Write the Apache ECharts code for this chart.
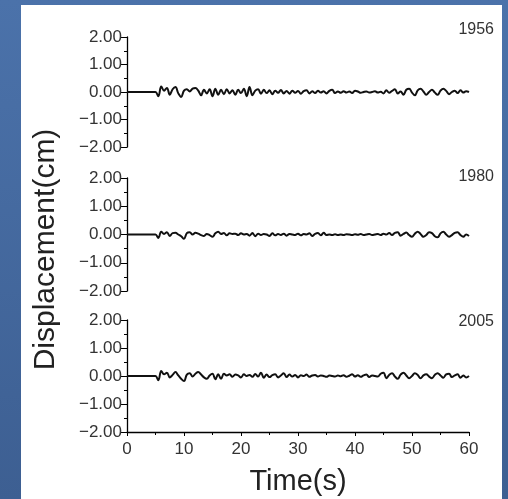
<!DOCTYPE html>
<html>
<head>
<meta charset="utf-8">
<title>Displacement</title>
<script src="https://cdn.jsdelivr.net/npm/echarts@6/dist/echarts.min.js"></script>
<style>
  html, body { margin: 0; padding: 0; }
  #chart { width: 508px; height: 499px; }
</style>
</head>
<body>
<div id="chart"></div>
<script>
// time axis: samples every 0.5 s from 0 to 60 s
const STEP = 0.5;
const years = ['1956', '1980', '2005'];

// displacement (cm)
const disp1956 = [
  0, 0, 0, 0, 0, 0, 0, 0, 0, 0, 0,
  -0.15, 0.2, 0.05, 0.15, -0.1, 0.1, 0.18, -0.05, -0.18, 0.05,
  0.1, 0.02, 0.12, 0.15, 0.05, -0.12, 0.08, -0.05, 0.1, -0.15,
  0.12, -0.1, 0.08, -0.08, 0.1, -0.05, 0.06, -0.1, 0.08, -0.04,
  0.12, -0.15, 0.18, -0.12, 0.05, 0.1, -0.06, 0.08, -0.04, 0.06,
  -0.08, 0.05, -0.03, 0.07, -0.05, 0.04, -0.06, 0.05, -0.03, 0.04,
  -0.06, 0.03, 0.06, -0.05, 0.03, -0.04, 0.05, -0.02, 0.03, -0.05,
  0.04, 0.08, -0.04, 0.02, -0.03, 0.03, -0.02, 0.02, -0.04, 0.05,
  0.02, -0.03, 0.0, 0.02, -0.02, 0.0, 0.03, -0.02, 0.01, -0.05,
  0.06, -0.03, 0.04, 0.1, -0.05, 0.02, -0.1, 0.08, 0.12, -0.02,
  -0.12, 0.06, 0.12, 0.02, -0.1, 0.0, 0.08, -0.02, -0.1, 0.05,
  0.12, 0.04, -0.08, 0.0, 0.05, -0.04, 0.06, -0.02, 0.03, 0.0
];
const disp1980 = [
  0, 0, 0, 0, 0, 0, 0, 0, 0, 0, 0,
  -0.12, 0.1, 0.02, 0.08, -0.05, 0.05, 0.06, 0.0, -0.06, -0.15,
  0.05, 0.08, 0.0, 0.06, 0.03, -0.02, -0.05, 0.02, -0.02, -0.08,
  0.04, 0.1, 0.02, 0.05, -0.03, 0.04, 0.02, 0.03, -0.02, 0.04,
  0.0, 0.02, -0.04, 0.05, -0.06, 0.03, -0.02, 0.02, 0.0, -0.05,
  0.04, -0.03, 0.02, -0.02, 0.03, -0.04, 0.02, 0.0, -0.02, 0.03,
  -0.03, 0.02, 0.0, 0.04, -0.05, 0.02, 0.05, -0.03, 0.06, -0.02,
  0.0, -0.02, 0.01, -0.02, 0.0, -0.02, 0.01, 0.0, -0.02, 0.01,
  -0.01, 0.02, -0.02, 0.0, 0.02, -0.02, 0.0, 0.02, -0.02, 0.03,
  0.0, 0.05, -0.02, 0.06, 0.08, -0.04, 0.02, 0.07, -0.02, -0.08,
  0.03, 0.1, 0.02, -0.08, -0.02, 0.08, 0.05, -0.06, -0.1, 0.04,
  0.1, 0.0, -0.08, -0.02, 0.06, 0.08, -0.02, -0.08, 0.0, -0.05
];
const disp2005 = [
  0, 0, 0, 0, 0, 0, 0, 0, 0, 0, 0,
  -0.15, 0.18, 0.06, 0.12, -0.05, 0.04, 0.14, 0.02, -0.1, -0.18,
  0.05, 0.1, -0.02, 0.08, 0.14, 0.05, -0.05, -0.1, 0.02, 0.08,
  -0.12, 0.06, -0.1, 0.08, 0.02, 0.06, -0.03, 0.05, 0.02, -0.05,
  0.06, 0.0, 0.04, -0.03, 0.07, -0.02, 0.12, -0.06, 0.05, -0.04,
  0.03, 0.06, -0.05, 0.02, 0.1, -0.04, 0.05, -0.02, 0.04, -0.05,
  0.03, 0.0, 0.05, -0.03, 0.02, 0.04, -0.02, 0.02, 0.0, -0.03,
  0.02, 0.0, -0.02, 0.02, -0.01, 0.03, -0.03, 0.01, 0.06, -0.02,
  0.03, -0.03, 0.02, 0.05, -0.04, 0.02, 0.0, -0.02, 0.08, 0.12,
  -0.08, 0.04, 0.1, -0.02, -0.1, 0.05, 0.12, 0.02, -0.08, 0.0,
  0.1, 0.04, -0.08, 0.02, 0.06, -0.02, -0.08, 0.04, 0.1, 0.02,
  -0.06, 0.06, 0.08, -0.04, 0.02, 0.06, -0.06, 0.02, -0.05, 0.0
];
const seriesValues = [disp1956, disp1980, disp2005];

// panel placement (px)
const panelTops = [37, 178, 320];
const panelHeights = [110, 113, 112];
const yearTops = [22, 169, 314];

const FONT = 'Liberation Sans, Arial, sans-serif';
const labelColor = '#333';

const chart = echarts.init(document.getElementById('chart'));

const grids = panelTops.map((top, i) => ({
  left: 127, right: 39, top: top, height: panelHeights[i]
}));

const xAxes = grids.map((g, i) => {
  const last = i === grids.length - 1;
  return {
    type: 'value', gridIndex: i, min: 0, max: 60, interval: 10,
    show: last,
    name: last ? 'Time(s)' : '',
    nameLocation: 'middle',
    nameGap: 35,
    nameTextStyle: { fontFamily: FONT, fontSize: 29, color: '#222' },
    axisLine: { show: true, onZero: false, lineStyle: { color: '#000', width: 1.3 } },
    axisTick: { show: true, inside: false, length: 4, lineStyle: { color: '#000' } },
    minorTick: { show: true, splitNumber: 2, length: 3, lineStyle: { color: '#000' } },
    axisLabel: { fontFamily: FONT, fontSize: 17, color: labelColor, margin: 9 },
    splitLine: { show: false }
  };
});

const yAxes = grids.map((g, i) => ({
  type: 'value', gridIndex: i, min: -2, max: 2, interval: 1,
  axisLine: { show: true, onZero: false, lineStyle: { color: '#000', width: 1.3 } },
  axisTick: { show: true, inside: false, length: 6, lineStyle: { color: '#000' } },
  minorTick: { show: true, splitNumber: 2, length: 3, lineStyle: { color: '#000' } },
  axisLabel: {
    fontFamily: FONT, fontSize: 17, color: labelColor, margin: 5,
    formatter: (v) => v.toFixed(2).replace('-', '\u2212')
  },
  splitLine: { show: false }
}));

const series = seriesValues.map((vals, i) => ({
  type: 'line',
  name: years[i],
  xAxisIndex: i,
  yAxisIndex: i,
  data: vals.map((v, k) => [k * STEP, v]),
  showSymbol: false,
  smooth: 0.4,
  lineStyle: { color: '#111', width: 2 },
  silent: true
}));

// year labels in the top-right of each panel
const yearLabels = years.map((y, i) => ({
  type: 'text',
  right: 14,
  top: yearTops[i],
  style: { text: y, font: '16px ' + FONT, fill: labelColor }
}));

chart.setOption({
  backgroundColor: {
    type: 'linear', x: 0, y: 0, x2: 0, y2: 1,
    colorStops: [
      { offset: 0, color: '#4b72aa' },
      { offset: 1, color: '#3d5f92' }
    ]
  },
  animation: false,
  graphic: [
    {
      type: 'rect', left: 21, top: 5, z: -10,
      shape: { width: 481, height: 494 },
      style: { fill: '#fff' }
    },
    {
      type: 'text',
      left: 31,
      top: 'middle',
      rotation: Math.PI / 2,
      originX: 0, originY: 0,
      style: {
        text: 'Displacement(cm)',
        font: '30px ' + FONT,
        fill: '#222',
        textAlign: 'center',
        textVerticalAlign: 'middle'
      }
    }
  ].concat(yearLabels),
  grid: grids,
  xAxis: xAxes,
  yAxis: yAxes,
  series: series
});
</script>
</body>
</html>
